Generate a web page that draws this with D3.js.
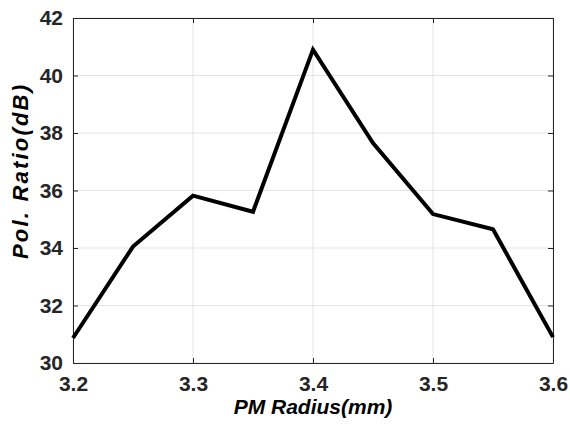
<!DOCTYPE html>
<html><head><meta charset="utf-8">
<script src="https://d3js.org/d3.v7.min.js"></script>
<style>body{margin:0;background:#fff;}svg{display:block;}</style>
</head><body>
<script>
const radius = [3.2, 3.25, 3.3, 3.35, 3.4, 3.45, 3.5, 3.55, 3.6];
const polRatio = [30.87, 34.05, 35.82, 35.26, 40.9, 37.65, 35.18, 34.65, 30.9];
const xTicks = [3.2, 3.3, 3.4, 3.5, 3.6];
const yTicks = [30, 32, 34, 36, 38, 40, 42];

const W = 570, H = 425;
const m = {left: 73, right: 17, top: 18, bottom: 62};
const svg = d3.select("body").append("svg").attr("width", W).attr("height", H);
const x = d3.scaleLinear().domain([3.2, 3.6]).range([m.left, W - m.right]);
const y = d3.scaleLinear().domain([30, 42]).range([H - m.bottom, m.top]);
const axisColor = "#262626";
const font = "'Liberation Sans', Arial, Helvetica, sans-serif";

// grid
svg.append("g").selectAll("line.gx").data(xTicks).join("line")
  .attr("x1", d => x(d)).attr("x2", d => x(d)).attr("y1", y(30)).attr("y2", y(42))
  .attr("stroke", "#e3e3e3").attr("stroke-width", 1);
svg.append("g").selectAll("line.gy").data(yTicks).join("line")
  .attr("y1", d => y(d)).attr("y2", d => y(d)).attr("x1", x(3.2)).attr("x2", x(3.6))
  .attr("stroke", "#e3e3e3").attr("stroke-width", 1);

// axes
const tk = 5;
const gx = svg.append("g").attr("transform", `translate(0,${y(30)})`)
  .call(d3.axisBottom(x).tickValues(xTicks).tickFormat(d3.format(".1f")).tickSizeInner(-tk).tickSizeOuter(0).tickPadding(13));
const gxt = svg.append("g").attr("transform", `translate(0,${y(42)})`)
  .call(d3.axisTop(x).tickValues(xTicks).tickFormat("").tickSizeInner(-tk).tickSizeOuter(0));
const gy = svg.append("g").attr("transform", `translate(${x(3.2)},0)`)
  .call(d3.axisLeft(y).tickValues(yTicks).tickFormat(d3.format("d")).tickSizeInner(-tk).tickSizeOuter(0).tickPadding(10));
const gyr = svg.append("g").attr("transform", `translate(${x(3.6)},0)`)
  .call(d3.axisRight(y).tickValues(yTicks).tickFormat("").tickSizeInner(-tk).tickSizeOuter(0));
[gx, gxt, gy, gyr].forEach(g => {
  g.select(".domain").attr("stroke", axisColor).attr("stroke-width", 1);
  g.selectAll(".tick line").attr("stroke", axisColor);
  g.selectAll("text").attr("fill", axisColor).attr("font-family", font)
    .attr("font-size", 21).attr("font-weight", "bold");
});
gx.selectAll("text").attr("dy", "0.71em");

// line
svg.append("path").datum(radius.map((r, i) => [r, polRatio[i]]))
  .attr("d", d3.line().x(d => x(d[0])).y(d => y(d[1])))
  .attr("fill", "none").attr("stroke", "#000").attr("stroke-width", 4)
  .attr("stroke-linejoin", "miter");

// labels
svg.append("text").attr("x", (x(3.2) + x(3.6)) / 2).attr("y", 414)
  .attr("text-anchor", "middle").attr("font-family", font).attr("font-size", 21)
  .attr("font-weight", "bold").attr("font-style", "italic").attr("fill", "#000")
  .text("PM Radius(mm)");
svg.append("text").attr("transform", `translate(28,172) rotate(-90)`)
  .attr("text-anchor", "middle").attr("font-family", font).attr("font-size", 22)
  .attr("font-weight", "bold").attr("font-style", "italic").attr("fill", "#000")
  .attr("textLength", 174).attr("lengthAdjust", "spacing")
  .text("Pol. Ratio(dB)");
</script>
</body></html>
